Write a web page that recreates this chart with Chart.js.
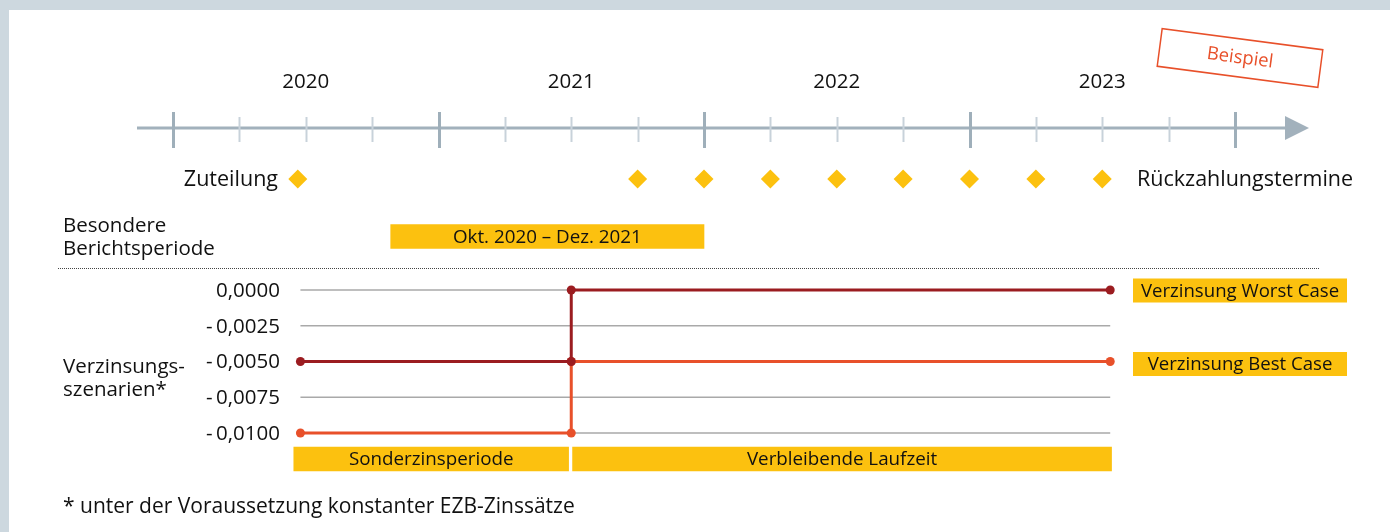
<!DOCTYPE html>
<html lang="de">
<head>
<meta charset="UTF-8">
<title>Verzinsungsszenarien</title>
<script src="https://cdn.jsdelivr.net/npm/chart.js@4.4.1/dist/chart.umd.min.js"></script>
<style>
  html, body { margin: 0; padding: 0; background: #cdd8df; }
  #chart { display: block; }
</style>
</head>
<body>
<canvas id="chart" width="1390" height="532"></canvas>
<script>
// --- data (years as decimal numbers) ---
const years = [2020, 2021, 2022, 2023];
const zuteilung = [2020.47];
const rueckzahlung = [2021.75, 2022.0, 2022.25, 2022.5, 2022.75, 2023.0, 2023.25, 2023.5];

const scenarioDates = [2020.48, 2021.5, 2021.5, 2023.53];
const worstCase = [-0.005, -0.005, 0, 0];
const bestCase = [-0.01, -0.01, -0.005, -0.005];
const rateTicks = [0, -0.0025, -0.005, -0.0075, -0.01];

const barLabels = ['Okt. 2020 – Dez. 2021', 'Sonderzinsperiode', 'Verbleibende Laufzeit'];
const barStarts = [2020.82, 2020.455, 2021.505];
const barEnds = [2022.0, 2021.49, 2023.535];
const barRows = ['bericht', 'phase', 'phase'];

// --- layout (pixels) ---
const W = 1390, H = 532;
const X0 = 173, X1 = 1235;          // 2020 and 2024 on the timeline
const RATE_TOP = 290, RATE_BOTTOM = 433;
const ROW = { years: 82, axis: 128, dates: 179, bericht: 236.5, dotted: 268, phase: 459, foot: 507 };
const FONT = '"Open Sans", sans-serif';
const YELLOW = '#fcc10f';
const DARKRED = '#9b1c20';
const ORANGE = '#e8502a';

const pxYear = (X1 - X0) / 4;
const pxRate = (RATE_BOTTOM - RATE_TOP) / 0.01;

function fmtRate(v) {
  const s = Math.abs(v).toFixed(4).replace('.', ',');
  return v < 0 ? '-\u2009' + s : s;
}

const decor = {
  id: 'decor',
  beforeDraw(chart) {
    const ctx = chart.ctx, x = chart.scales.x, yr = chart.scales.y;
    ctx.save();
    // background frame
    ctx.fillStyle = '#cdd8df';
    ctx.fillRect(0, 0, W, H);
    ctx.fillStyle = '#ffffff';
    ctx.fillRect(9, 10, W - 9, H - 10);

    // timeline axis
    ctx.strokeStyle = '#a2b1bc';
    ctx.lineWidth = 3;
    ctx.beginPath();
    ctx.moveTo(137, ROW.axis);
    ctx.lineTo(1290, ROW.axis);
    ctx.stroke();
    ctx.fillStyle = '#a2b1bc';
    ctx.beginPath();
    ctx.moveTo(1285, ROW.axis - 12);
    ctx.lineTo(1309, ROW.axis);
    ctx.lineTo(1285, ROW.axis + 12);
    ctx.closePath();
    ctx.fill();
    // quarter ticks
    for (let q = 0; q <= 16; q++) {
      const px = Math.round(x.getPixelForValue(2020 + q / 4)) + 0.5;
      const major = q % 4 === 0;
      ctx.strokeStyle = major ? '#9fafba' : '#c8d2da';
      ctx.lineWidth = major ? 3 : 2;
      ctx.beginPath();
      ctx.moveTo(px, ROW.axis - (major ? 16 : 11));
      ctx.lineTo(px, ROW.axis + (major ? 20 : 14));
      ctx.stroke();
    }
    // year labels
    ctx.fillStyle = '#111';
    ctx.font = '20.5px ' + FONT;
    ctx.textAlign = 'center';
    ctx.textBaseline = 'middle';
    years.forEach(y => ctx.fillText(String(y), x.getPixelForValue(y + 0.5), ROW.years));

    // dotted separator
    ctx.strokeStyle = '#444';
    ctx.lineWidth = 1;
    ctx.setLineDash([1, 1]);
    ctx.beginPath();
    ctx.moveTo(58, ROW.dotted + 0.5);
    ctx.lineTo(1320, ROW.dotted + 0.5);
    ctx.stroke();
    ctx.setLineDash([]);

    // rate grid and tick labels
    const gx0 = x.getPixelForValue(scenarioDates[0]);
    const gx1 = x.getPixelForValue(scenarioDates[scenarioDates.length - 1]);
    ctx.strokeStyle = '#a9a9a9';
    ctx.lineWidth = 1.5;
    ctx.textAlign = 'right';
    ctx.font = '20.5px ' + FONT;
    rateTicks.forEach(t => {
      const py = yr.getPixelForValue(t);
      ctx.beginPath();
      ctx.moveTo(gx0, py);
      ctx.lineTo(gx1, py);
      ctx.stroke();
      ctx.fillText(fmtRate(t), 280, py + 1);
    });

    // left labels
    ctx.textAlign = 'left';
    ctx.font = '20.5px ' + FONT;
    ctx.fillText('Besondere', 63, 226);
    ctx.fillText('Berichtsperiode', 63, 249);
    ctx.fillText('Verzinsungs-', 63, 367);
    ctx.fillText('szenarien*', 63, 390);
    ctx.restore();
  },
  afterDatasetsDraw(chart) {
    const ctx = chart.ctx, x = chart.scales.x, yr = chart.scales.y;
    ctx.save();
    ctx.fillStyle = '#111';
    ctx.textBaseline = 'middle';

    // labels inside bars
    ctx.font = '18.8px ' + FONT;
    ctx.textAlign = 'center';
    barLabels.forEach((lab, i) => {
      const cx = x.getPixelForValue((barStarts[i] + barEnds[i]) / 2);
      ctx.fillText(lab, cx, ROW[barRows[i]] + 1);
    });

    // timeline labels
    ctx.font = '21.5px ' + FONT;
    ctx.textAlign = 'right';
    ctx.fillText('Zuteilung', 278, ROW.dates + 1);
    ctx.textAlign = 'left';
    ctx.fillText('Rückzahlungstermine', 1137, ROW.dates + 1);

    // scenario boxes on the right
    const boxes = [['Verzinsung Worst Case', worstCase[worstCase.length - 1], 0.5],
                   ['Verzinsung Best Case', bestCase[bestCase.length - 1], 2.5]];
    ctx.font = '18.6px ' + FONT;
    ctx.textAlign = 'center';
    boxes.forEach(([lab, v, off]) => {
      const cy = yr.getPixelForValue(v) + off;
      ctx.fillStyle = YELLOW;
      ctx.fillRect(1133, cy - 12, 214, 24);
      ctx.fillStyle = '#111';
      ctx.fillText(lab, 1240, cy + 1);
    });

    // footnote
    ctx.textAlign = 'left';
    ctx.font = '21px ' + FONT;
    ctx.fillText('* unter der Voraussetzung konstanter EZB-Zinssätze', 63, ROW.foot);

    // "Beispiel" stamp
    ctx.translate(1240, 58);
    ctx.rotate(7.5 * Math.PI / 180);
    ctx.strokeStyle = '#e8502a';
    ctx.lineWidth = 1.5;
    ctx.strokeRect(-81, -19, 162, 38);
    ctx.fillStyle = '#e8502a';
    ctx.font = '18.5px ' + FONT;
    ctx.textAlign = 'center';
    ctx.fillText('Beispiel', 0, 0);
    ctx.restore();
  }
};

const pt = (xs, ys) => xs.map((v, i) => ({ x: v, y: ys[i] }));
const diamonds = (label, dates) => ({
  label,
  type: 'line',
  showLine: false,
  yAxisID: 'yLane',
  data: dates.map(d => ({ x: d, y: ROW.dates })),
  pointStyle: 'rectRot',
  pointRadius: 9.5,
  pointBorderWidth: 0,
  pointBackgroundColor: YELLOW,
  backgroundColor: YELLOW,
  borderColor: YELLOW,
  clip: false
});

new Chart(document.getElementById('chart'), {
  type: 'line',
  data: {
    datasets: [
      {
        label: 'Verzinsung Worst Case',
        data: pt(scenarioDates, worstCase),
        borderColor: DARKRED,
        backgroundColor: DARKRED,
        borderWidth: 3,
        pointRadius: 4.5,
        pointBorderWidth: 0,
        clip: false
      },
      {
        label: 'Verzinsung Best Case',
        data: pt(scenarioDates, bestCase),
        borderColor: ORANGE,
        backgroundColor: ORANGE,
        borderWidth: 3,
        pointRadius: 4.5,
        pointBorderWidth: 0,
        clip: false
      },
      diamonds('Zuteilung', zuteilung),
      diamonds('Rückzahlungstermine', rueckzahlung),
      {
        label: 'Perioden',
        type: 'bar',
        indexAxis: 'y',
        yAxisID: 'yLane',
        data: barLabels.map((l, i) => ({ x: [barStarts[i], barEnds[i]], y: ROW[barRows[i]] })),
        backgroundColor: YELLOW,
        borderWidth: 0,
        barThickness: 24,
        clip: false
      }
    ]
  },
  options: {
    responsive: false,
    animation: false,
    devicePixelRatio: 1,
    layout: { padding: 0, autoPadding: false },
    plugins: { legend: { display: false }, tooltip: { enabled: false } },
    scales: {
      x: {
        type: 'linear', display: false, offset: false,
        min: 2020 - X0 / pxYear,
        max: 2020 + (W - X0) / pxYear
      },
      y: {
        type: 'linear', display: false, offset: false,
        min: -0.01 - (H - RATE_BOTTOM) / pxRate,
        max: RATE_TOP / pxRate
      },
      yLane: {
        type: 'linear', axis: 'y', display: false, reverse: true, offset: false,
        min: 0, max: H
      }
    }
  },
  plugins: [decor]
});
</script>
</body>
</html>
